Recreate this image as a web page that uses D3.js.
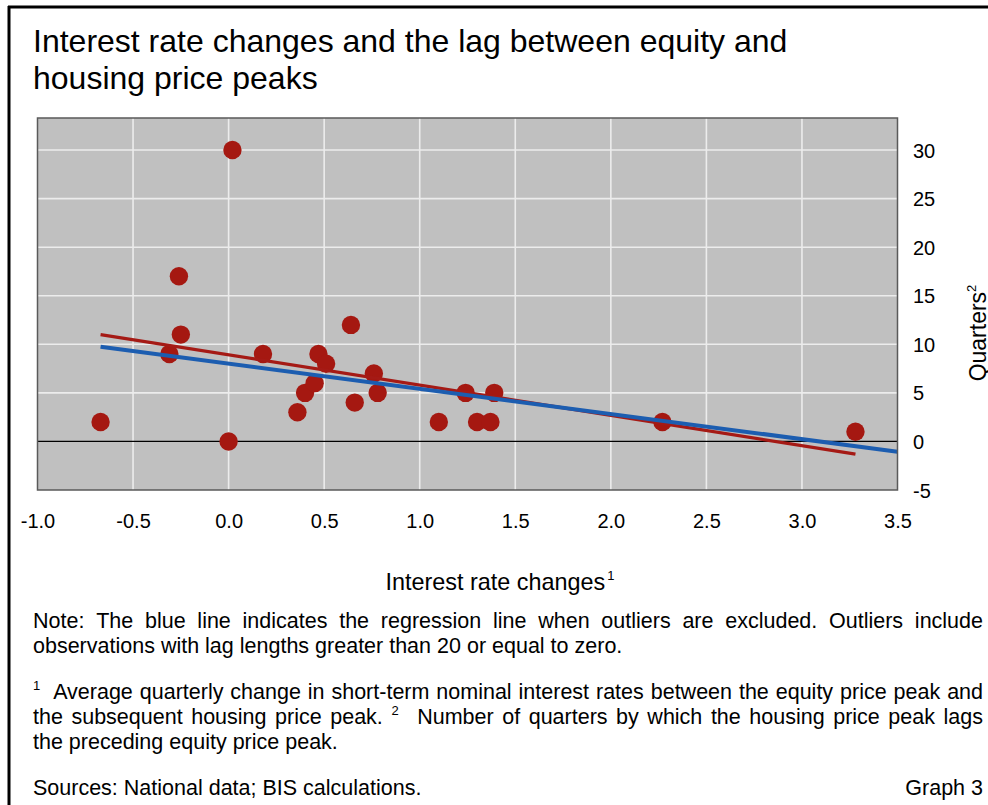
<!DOCTYPE html>
<html>
<head>
<meta charset="utf-8">
<script src="https://cdn.jsdelivr.net/npm/d3@7"></script>
<style>
  html, body { margin: 0; padding: 0; background: #fff; }
  svg { display: block; font-family: "Liberation Sans", Arial, sans-serif; }
</style>
</head>
<body>
<svg id="chart" width="988" height="805"></svg>
<script>
// Scatter: interest rate change (x) vs lag in quarters (y)
const rateChanges = [-0.67, -0.31, -0.26, -0.25, 0.02, 0.00, 0.18, 0.36, 0.40, 0.45, 0.47, 0.51,
  0.64, 0.66, 0.76, 0.78, 1.10, 1.24, 1.30, 1.37, 1.39, 2.27, 3.28];
const lagQuarters = [2, 9, 17, 11, 30, 0, 9, 3, 5, 6, 9, 8,
  12, 4, 7, 5, 2, 5, 2, 2, 5, 2, 1];

// regression lines (endpoints)
const redLineX = [-0.67, 3.28];
const redLineY = [11.0, -1.3];
const blueLineX = [-0.67, 3.5];
const blueLineY = [9.75, -1.06];

const xTicks = [-1.0, -0.5, 0.0, 0.5, 1.0, 1.5, 2.0, 2.5, 3.0, 3.5];
const yTicks = [-5, 0, 5, 10, 15, 20, 25, 30];

const titleLines = ['Interest rate changes and the lag between equity and', 'housing price peaks'];

const svg = d3.select('#chart');
const W = 988, H = 805;
const plot = { left: 37.5, right: 897.5, top: 118, bottom: 490 };

const x = d3.scaleLinear().domain([-1, 3.5]).range([plot.left, plot.right]);
const y = d3.scaleLinear().domain([-5, 33.3]).range([plot.bottom, plot.top]);

// outer frame: left and top rules only
svg.append('line').attr('x1', 9).attr('x2', 9).attr('y1', 6).attr('y2', H)
  .attr('stroke', '#000').attr('stroke-width', 3);
svg.append('line').attr('x1', 8).attr('x2', W).attr('y1', 7).attr('y2', 7)
  .attr('stroke', '#000').attr('stroke-width', 3);

// title
svg.append('g').selectAll('text').data(titleLines).enter().append('text')
  .attr('x', 33).attr('y', (d, i) => 52 + i * 37)
  .attr('font-size', 32).attr('fill', '#000')
  .text(d => d);

// plot background
svg.append('rect')
  .attr('x', plot.left).attr('y', plot.top)
  .attr('width', plot.right - plot.left).attr('height', plot.bottom - plot.top)
  .attr('fill', '#c0c0c0');

// grid
svg.append('g').selectAll('line').data(xTicks.slice(1, -1)).enter().append('line')
  .attr('x1', d => x(d)).attr('x2', d => x(d))
  .attr('y1', plot.top).attr('y2', plot.bottom)
  .attr('stroke', '#ececec').attr('stroke-width', 1.6);
svg.append('g').selectAll('line').data(yTicks.filter(d => d > 0)).enter().append('line')
  .attr('x1', plot.left).attr('x2', plot.right)
  .attr('y1', d => y(d)).attr('y2', d => y(d))
  .attr('stroke', '#ececec').attr('stroke-width', 1.6);
svg.append('line')
  .attr('x1', plot.left).attr('x2', plot.right)
  .attr('y1', y(0)).attr('y2', y(0))
  .attr('stroke', '#000').attr('stroke-width', 1.2);

// dots
const pts = rateChanges.map((v, i) => ({ x: v, y: lagQuarters[i] }));
svg.append('g').selectAll('circle').data(pts).enter().append('circle')
  .attr('cx', d => x(d.x)).attr('cy', d => y(d.y)).attr('r', 9.2)
  .attr('fill', '#a51811');

// regression lines
const line = d3.line().x(d => x(d[0])).y(d => y(d[1]));
svg.append('path')
  .attr('d', line(d3.zip(redLineX, redLineY)))
  .attr('stroke', '#a51a15').attr('stroke-width', 3.2).attr('fill', 'none');
svg.append('path')
  .attr('d', line(d3.zip(blueLineX, blueLineY)))
  .attr('stroke', '#1c5db0').attr('stroke-width', 4).attr('fill', 'none');

// plot border
svg.append('rect')
  .attr('x', plot.left).attr('y', plot.top)
  .attr('width', plot.right - plot.left).attr('height', plot.bottom - plot.top)
  .attr('fill', 'none').attr('stroke', '#5a5a5a').attr('stroke-width', 1.5);

// axes
const xAxis = svg.append('g').attr('transform', `translate(0,${plot.bottom})`)
  .call(d3.axisBottom(x).tickValues(xTicks).tickFormat(d => d.toFixed(1)).tickSize(0));
xAxis.select('.domain').remove();
xAxis.selectAll('text').attr('y', 38).attr('dy', 0)
  .attr('font-size', 20).attr('font-family', '"Liberation Sans", Arial, sans-serif').attr('fill', '#000');

const yAxis = svg.append('g').attr('transform', `translate(${plot.right},0)`)
  .call(d3.axisRight(y).tickValues(yTicks).tickFormat(d => String(d)).tickSize(0));
yAxis.select('.domain').remove();
yAxis.selectAll('text').attr('x', 15.5).attr('dy', '0.35em')
  .attr('font-size', 20).attr('font-family', '"Liberation Sans", Arial, sans-serif').attr('fill', '#000');

// axis titles
const xt = svg.append('text').attr('x', 500).attr('y', 590)
  .attr('text-anchor', 'middle').attr('font-size', 23.4);
xt.append('tspan').text('Interest rate changes');
xt.append('tspan').attr('font-size', 13).attr('dx', 2).attr('dy', -10).text('1');

const yt = svg.append('text')
  .attr('transform', 'translate(986,333) rotate(-90)')
  .attr('text-anchor', 'middle').attr('font-size', 23);
yt.append('tspan').text('Quarters');
yt.append('tspan').attr('font-size', 13).attr('dy', -10).text('2');

// notes, justified between 33 and 983
const noteLeft = 33, noteRight = 983, noteSize = 21.5;
function justifyLine(parts, yPos, justify) {
  // parts: array of {t, sup}
  const g = svg.append('g');
  const words = [];
  parts.forEach(p => {
    if (p.sup) words.push({ t: p.t, sup: true, gapAfter: p.gap || 0 });
    else p.t.split(' ').filter(w => w).forEach(w => words.push({ t: w, sup: false }));
  });
  const nodes = words.map(w => {
    const el = g.append('text').attr('y', w.sup ? yPos - 9 : yPos)
      .attr('font-size', w.sup ? 13 : noteSize).text(w.t);
    return { el, w, width: el.node().getComputedTextLength() };
  });
  const total = d3.sum(nodes, n => n.width);
  const gaps = nodes.length - 1;
  const space = justify ? (noteRight - noteLeft - total - d3.sum(nodes, n => n.w.gapAfter || 0)) / gaps : noteSize * 0.278;
  let cx = noteLeft;
  nodes.forEach(n => {
    n.el.attr('x', cx);
    cx += n.width + space + (n.w.gapAfter || 0);
  });
}
justifyLine([{ t: 'Note: The blue line indicates the regression line when outliers are excluded. Outliers include' }], 628, true);
justifyLine([{ t: 'observations with lag lengths greater than 20 or equal to zero.' }], 653, false);
justifyLine([{ t: '1', sup: true, gap: 6 }, { t: 'Average quarterly change in short-term nominal interest rates between the equity price peak and' }], 699, true);
justifyLine([{ t: 'the subsequent housing price peak.' }, { t: '2', sup: true, gap: 10 }, { t: 'Number of quarters by which the housing price peak lags' }], 724, true);
justifyLine([{ t: 'the preceding equity price peak.' }], 749, false);

svg.append('text').attr('x', noteLeft).attr('y', 795).attr('font-size', noteSize)
  .text('Sources: National data; BIS calculations.');
svg.append('text').attr('x', noteRight).attr('y', 795).attr('font-size', noteSize)
  .attr('text-anchor', 'end').text('Graph 3');
</script>
</body>
</html>
